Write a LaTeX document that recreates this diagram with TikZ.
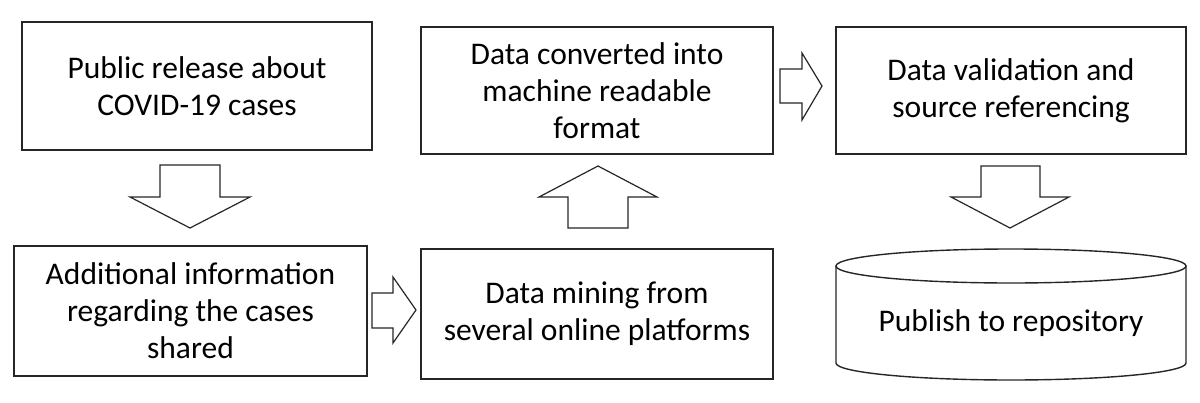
\documentclass[tikz,border=0pt]{standalone}
\usepackage{fontspec}
\setmainfont{Carlito}
\begin{document}
\begin{tikzpicture}[x=1pt,y=-1pt,
  box/.style={draw=black!85,line width=1.6pt,rectangle,align=center,inner sep=0pt,
    font=\fontsize{31.5}{37}\selectfont},
  lbl/.style={align=center,inner sep=0pt,font=\fontsize{31.5}{37}\selectfont},
  barrow/.style={draw=black!85,line width=1.2pt,line join=miter,fill=white}]
\useasboundingbox (0,0) rectangle (1200,402);
\node[box,minimum width=350pt,minimum height=128pt] (b1) at (197,86) {Public release about\\COVID-19 cases};
\node[box,minimum width=353pt,minimum height=130pt] (b2) at (190.5,311) {Additional information\\regarding the cases\\shared};
\node[box,minimum width=352pt,minimum height=130pt] (b3) at (597,314) {Data mining from\\several online platforms};
\node[box,minimum width=352pt,minimum height=127pt] (b4) at (597,90.5) {Data converted into\\machine readable\\format};
\node[box,minimum width=350pt,minimum height=127pt] (b5) at (1011,90.5) {Data validation and\\source referencing};
% cylinder
\draw[line width=1.4pt,draw=black!85] (836,266) -- (836,363) arc[start angle=180,end angle=0,x radius=175,y radius=17] -- (1186,266);
\draw[line width=1.4pt,draw=black!85] (1011,266) ellipse[x radius=175,y radius=17];
\node[lbl] (b6) at (1011,323) {Publish to repository};
% block arrows
\draw[barrow] (160,165) -- (220,165) -- (220,197) -- (250,197) -- (190,228) -- (130,197) -- (160,197) -- cycle;
\draw[barrow] (372,293) -- (393,293) -- (393,277) -- (416,310) -- (393,343) -- (393,328) -- (372,328) -- cycle;
\draw[barrow] (568,228) -- (628,228) -- (628,197) -- (657,197) -- (598,166) -- (539,197) -- (568,197) -- cycle;
\draw[barrow] (780,69) -- (802,69) -- (802,53) -- (822,86) -- (802,120) -- (802,103) -- (780,103) -- cycle;
\draw[barrow] (981,166) -- (1040,166) -- (1040,197) -- (1069,197) -- (1010,228) -- (951,197) -- (981,197) -- cycle;
\end{tikzpicture}
\end{document}
